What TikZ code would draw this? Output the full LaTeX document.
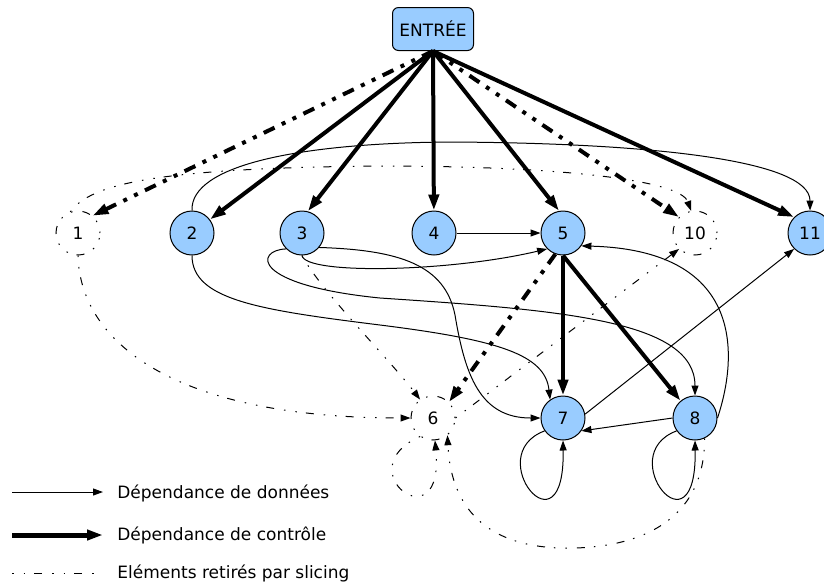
\documentclass[tikz,border=0pt]{standalone}
\usepackage{fontspec}
\setmainfont{DejaVu Sans}
\usetikzlibrary{arrows.meta}
\definecolor{nodeblue}{RGB}{153,204,255}

\begin{document}
\begin{tikzpicture}[x=0.5pt,y=-0.5pt,
    every node/.style={font=\fontsize{8.5}{10}\selectfont,inner sep=0pt},
    stmt/.style={draw,circle,fill=nodeblue,minimum size=22pt,line width=0.5pt},
    slicedstmt/.style={draw,circle,minimum size=22pt,line width=0.5pt,removed},
    entry/.style={draw,rounded corners=3pt,fill=nodeblue,minimum width=40.5pt,
                  minimum height=21.5pt,line width=0.5pt},
    data/.style={-{Triangle[length=5pt,width=3.5pt]},line width=0.5pt},
    ctrl/.style={-{Triangle[length=8pt,width=5pt]},line width=2pt},
    removed/.style={dash pattern=on 0.75pt off 5pt on 0.75pt off 4.5pt on 4pt off 5pt},
    thickremoved/.style={dash pattern=on 6pt off 4pt on 2pt off 4pt on 2pt off 4pt}]

\useasboundingbox (0,0) rectangle (824,586);

\node[entry] (entree) at (433,29) {ENTRÉE};

\node[slicedstmt] (n1) at (78,233) {1};
\node[stmt] (n2) at (192,233) {2};
\node[stmt] (n3) at (302,233) {3};
\node[stmt] (n4) at (434,233) {4};
\node[stmt] (n5) at (563,233) {5};
\node[slicedstmt] (n10) at (695,233) {10};
\node[stmt] (n11) at (810,233) {11};
\node[slicedstmt] (n6) at (433,418) {6};
\node[stmt] (n7) at (563,418) {7};
\node[stmt] (n8) at (695,418) {8};

% controle
\draw[ctrl,thickremoved] (entree.south) -- (n1.50);
\draw[ctrl] (entree.south) -- (n2);
\draw[ctrl] (entree.south) -- (n3.75);
\draw[ctrl] (entree.south) -- (n4);
\draw[ctrl] (entree.south) -- (n5.100);
\draw[ctrl,thickremoved] (entree.south) -- (n10.135);
\draw[ctrl] (entree.south) -- (n11.135);
\draw[ctrl] (n5.south) -- (n7);
\draw[ctrl] (n5.south) -- (n8.130);
\draw[ctrl,thickremoved] (n5.250) -- (n6.45);

% donnees
\draw[data] (n4) -- (n5);
\draw[data] (n2.north) .. controls (190,165) and (300,143) .. (450,142)
                       .. controls (650,143) and (810,160) .. (n11.north);
\draw[data] (n3.south) .. controls (305,275) and (450,272) .. (n5.225);
\draw[data] (n3.-40) .. controls (400,250) and (445,265) .. (455,315)
                     .. controls (465,375) and (480,418) .. (n7.west);
\draw[data] (n3.225) .. controls (255,250) and (250,285) .. (380,298)
                     .. controls (560,310) and (695,320) .. (n8.north);
\draw[data] (n2.south) .. controls (192,300) and (260,310) .. (380,325)
                       .. controls (500,340) and (545,355) .. (n7.125);
\draw[data] (n7.10) -- (n11.225);
\draw[data] (n8.west) -- (n7.-35);
\draw[data] (n8.east) .. controls (740,350) and (740,250) .. (n5.-35);
\draw[data] (n7.215) .. controls (480,455) and (565,560) .. (n7.south);
\draw[data] (n8.215) .. controls (612,455) and (697,560) .. (n8.south);

% retires par slicing
\draw[data,removed] (n1.110) .. controls (90,185) and (150,168) .. (380,166)
                             .. controls (560,166) and (680,180) .. (n10.100);
\draw[data,removed] (n1.south) .. controls (80,340) and (170,418) .. (n6.west);
\draw[data,removed] (n3.south) .. controls (320,290) and (390,360) .. (n6.125);
\draw[data,removed] (n6.east) -- (n10.225);
\draw[data,removed] (n6.235) .. controls (345,470) and (445,545) .. (n6.275);
\draw[data,removed] (n8.-65) .. controls (705,520) and (640,550) .. (560,548)
                             .. controls (470,545) and (450,490) .. (n6.-50);

% legende
\coordinate (lg1a) at (12,492);
\coordinate (lg1b) at (103,492);
\coordinate (lg2a) at (12,535);
\coordinate (lg2b) at (103,535);
\coordinate (lg3a) at (12,573);
\coordinate (lg3b) at (103,573);
\draw[data] (lg1a) -- (lg1b);
\draw[ctrl,line width=2.5pt] (lg2a) -- (lg2b);
\draw[line width=0.5pt,removed] (lg3a) -- (lg3b);
\node[anchor=west] (lgdata) at (117,493) {Dépendance de données};
\node[anchor=west] (lgctrl) at (117,535) {Dépendance de contrôle};
\node[anchor=west] (lgslice) at (117,573) {Eléments retirés par slicing};

\end{tikzpicture}
\end{document}
